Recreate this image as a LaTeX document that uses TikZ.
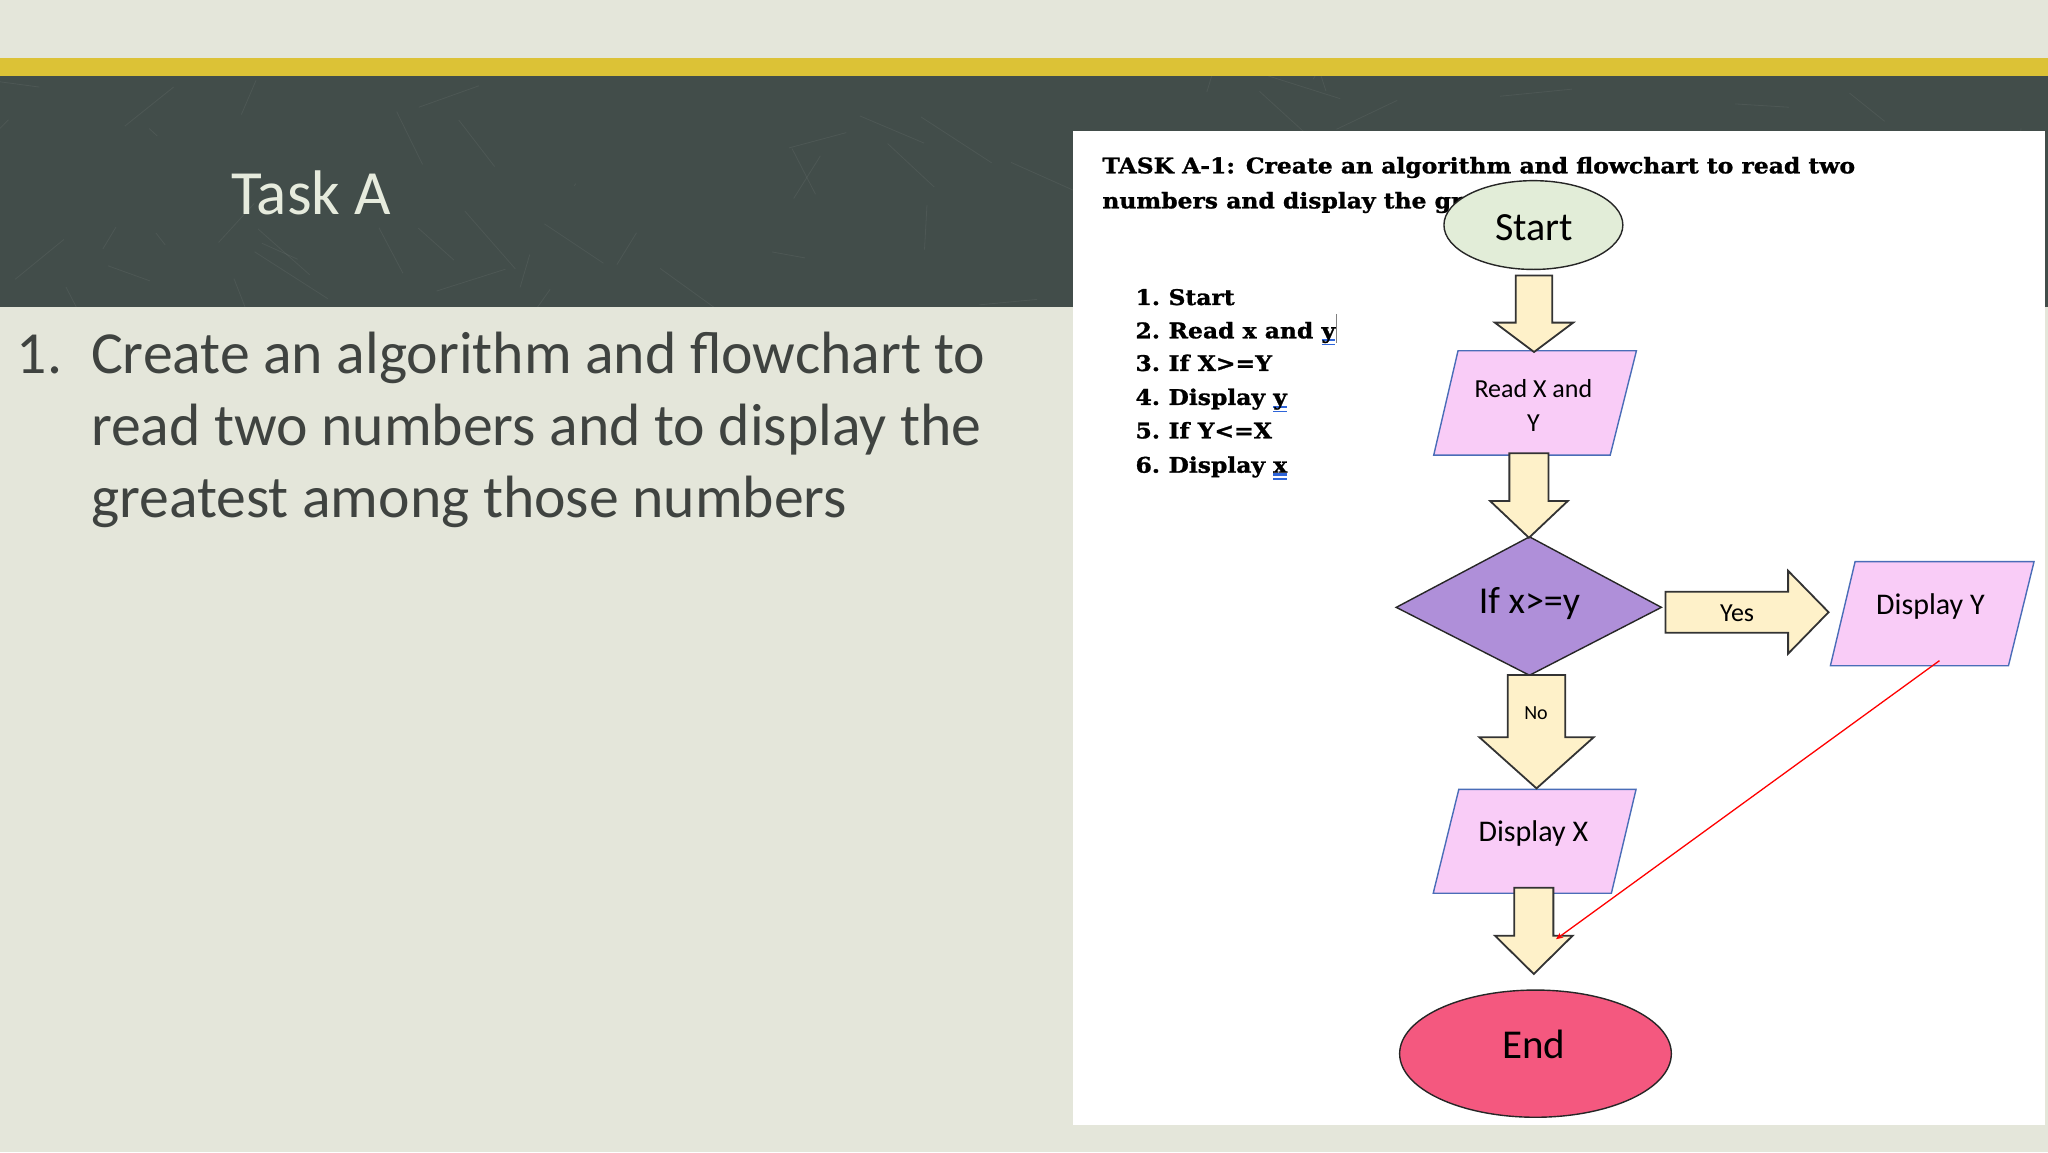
\documentclass[tikz,border=0pt]{standalone}
\usepackage{fontspec}
\setmainfont{Carlito}
\newfontfamily\slabfont[FakeStretch=1.09,FakeBold=1.2]{DejaVu Serif}
\usetikzlibrary{arrows.meta,shapes.geometric}
\definecolor{bgc}{HTML}{E4E6DA}
\definecolor{yellowband}{HTML}{DCC236}
\definecolor{board}{HTML}{424D4A}
\definecolor{titlec}{HTML}{E6EBDD}
\definecolor{bodyc}{HTML}{3F4340}
\definecolor{startc}{HTML}{E2EDD8}
\definecolor{creamc}{HTML}{FEF1C9}
\definecolor{pinkc}{HTML}{F9CCF7}
\definecolor{pinkedge}{HTML}{4A6DB8}
\definecolor{diac}{HTML}{AF8FD9}
\definecolor{endc}{HTML}{F4587F}
\definecolor{ulblue}{HTML}{2E64D8}
\newcommand\bluul[1]{\setbox0\hbox{#1}\rlap{\color{ulblue}\rule[-3pt]{\wd0}{2.2pt}}\rlap{\color{ulblue}\rule[-7pt]{\wd0}{1.2pt}}\box0}
\newcommand\blkdown[6]{\draw[blk] (#1-#5,#2) -- (#1+#5,#2) -- (#1+#5,#3) -- (#1+#6,#3) -- (#1,#4) -- (#1-#6,#3) -- (#1-#5,#3) -- cycle;}
\tikzset{
  txt/.style={inner sep=0pt, outer sep=0pt},
  blk/.style={draw=black!80, line width=1.8pt, fill=creamc, line join=miter},
  para/.style={draw=pinkedge, line width=1.4pt, fill=pinkc},
  slab/.style={txt, anchor=base west, font=\slabfont\bfseries\fontsize{21.5}{26}\selectfont},
  bodytxt/.style={txt, anchor=base west, text=bodyc, font=\fontsize{59.7}{72}\selectfont},
}
\begin{document}
\begin{tikzpicture}[x=1.30612pt,y=-1.30612pt]
\useasboundingbox (0,0) rectangle (1568,882);
% background
\fill[bgc] (0,0) rectangle (1568,882);
\fill[yellowband] (0,44.3) rectangle (1568,58.2);
\fill[board] (0,58.2) rectangle (1568,235);
% faint chalk scratches
\pgfmathsetseed{7}
\begin{scope}
\clip (0,58.2) rectangle (1568,235);
\foreach \i in {1,...,70}{
  \pgfmathsetmacro{\xa}{rnd*1568}
  \pgfmathsetmacro{\ya}{58+rnd*177}
  \pgfmathsetmacro{\dx}{(rnd-0.5)*120}
  \pgfmathsetmacro{\dy}{(rnd-0.5)*90}
  \draw[white, opacity=0.06, line width=0.8pt] (\xa,\ya) -- ++(\dx,\dy);
}
\end{scope}
\fill[white] (821.7,100.6) rectangle (1565.5,861.4);
% left side text
\node[txt, anchor=base west, text=titlec, font=\fontsize{63}{72}\selectfont] (taskA) at (177,164) {Task A};
\node[bodytxt] (num1) at (13,286) {1.};
\node[bodytxt] (body1) at (69.8,286) {Create an algorithm and flowchart to};
\node[bodytxt] (body2) at (69.8,341) {read two numbers and to display the};
\node[bodytxt] (body3) at (69.8,396) {greatest among those numbers};
% flowchart title and algorithm
\node[slab] (t1) at (844,132.7) {TASK A-1: Create an algorithm and flowchart to read two};
\node[slab] (t2) at (844,159.5) {numbers and display the gr};
\node[slab] (l1) at (869.4,233.5) {\makebox[33pt][l]{1.}Start};
\node[slab] (l2) at (869.4,259) {\makebox[33pt][l]{2.}Read x and \bluul{y}};
\node[slab] (l3) at (869.4,284) {\makebox[33pt][l]{3.}If X>=Y};
\node[slab] (l4) at (869.4,310) {\makebox[33pt][l]{4.}Display \bluul{y}};
\node[slab] (l5) at (869.4,335.6) {\makebox[33pt][l]{5.}If Y<=X};
\node[slab] (l6) at (869.4,361.9) {\makebox[33pt][l]{6.}Display \bluul{x}};
\coordinate (curT) at ([xshift=1.5pt]l2.east |- 0,240.4);
\coordinate (curB) at ([xshift=1.5pt]l2.east |- 0,262.6);
\draw[gray, line width=1pt] (curT) -- (curB);
% shapes
\node[ellipse, draw=black!85, line width=1.4pt, fill=startc, minimum width=178.9pt, minimum height=88.8pt, inner sep=0pt] (start) at (1174,172.3) {};
\node[txt, anchor=base, font=\fontsize{40}{48}\selectfont] (startT) at (1174.6,184.5) {Start};
\draw[para] (1116.3,268.5) -- (1252.9,268.5) -- (1232.8,348.4) -- (1097.7,348.4) -- cycle;
\node[txt, anchor=base, font=\fontsize{26}{34}\selectfont] (read1) at (1174,304.5) {Read X and};
\node[txt, anchor=base, font=\fontsize{26}{34}\selectfont] (read2) at (1174,330.5) {Y};
\draw[black!85, line width=1.4pt, fill=diac] (1069,465) -- (1171,411) -- (1272,465) -- (1171,517) -- cycle;
\node[txt, anchor=base, font=\fontsize{38}{46}\selectfont] (ifT) at (1171,469.5) {If x>=y};
\draw[para] (1420.3,430) -- (1557.3,430) -- (1537.7,509.7) -- (1401.4,509.7) -- cycle;
\node[txt, anchor=base, font=\fontsize{30}{36}\selectfont] (dispY) at (1478,470.5) {Display Y};
\draw[para] (1116.9,604.3) -- (1252.6,604.3) -- (1233.7,683.9) -- (1097.3,683.9) -- cycle;
\node[txt, anchor=base, font=\fontsize{30}{36}\selectfont] (dispX) at (1174,644.5) {Display X};
\node[ellipse, draw=black!85, line width=1.4pt, fill=endc, minimum width=271.7pt, minimum height=127.2pt, inner sep=0pt] (endE) at (1175.6,806.7) {};
\node[txt, anchor=base, font=\fontsize{41}{48}\selectfont] (endT) at (1174.4,810.3) {End};
% block arrows
\blkdown{1174.5}{211}{247}{269.5}{14}{30}
\blkdown{1170.6}{347}{383.6}{411.7}{15}{29.7}
\blkdown{1176.4}{516.8}{564.5}{603.6}{22}{43.7}
\blkdown{1174.3}{679.6}{716.4}{745.7}{15}{29.7}
\draw[blk] (1275.2,453) -- (1369,453) -- (1369,437) -- (1400,468.7) -- (1369,500.5) -- (1369,484.4) -- (1275.2,484.4) -- cycle;
\node[txt, anchor=base, font=\fontsize{26}{30}\selectfont] (yesT) at (1330,476) {Yes};
\node[txt, anchor=base, font=\fontsize{20}{24}\selectfont] (noT) at (1176,551) {No};
% red connector
\coordinate (redA) at (1484.9,505.8);
\coordinate (redB) at (1191.3,719.1);
\draw[red, line width=1.3pt, -{Stealth[length=7pt,width=6pt]}] (redA) -- (redB);
\end{tikzpicture}
\end{document}
